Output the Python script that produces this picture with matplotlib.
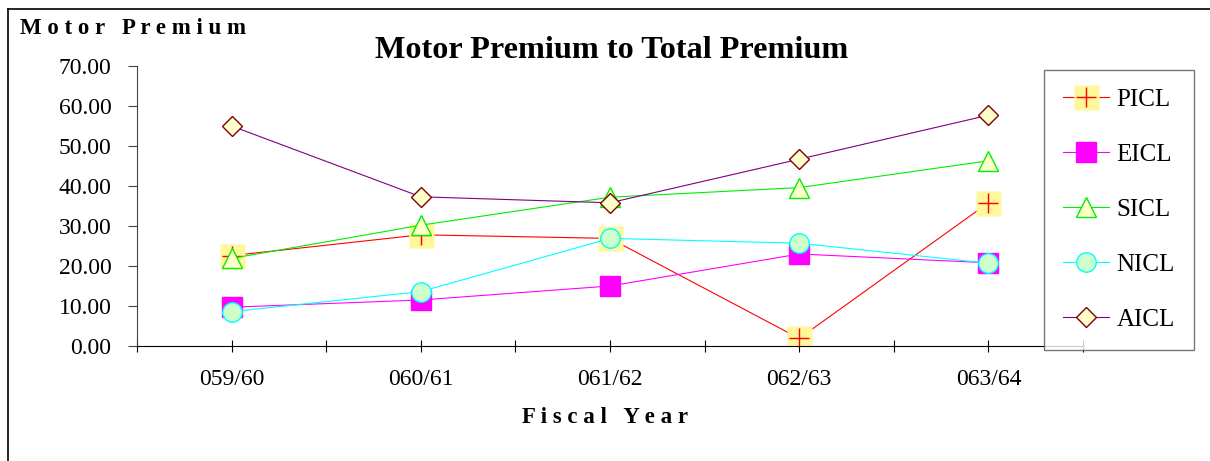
import matplotlib
matplotlib.use("Agg")
import matplotlib.pyplot as plt
from matplotlib.lines import Line2D
from matplotlib.legend_handler import HandlerTuple
import numpy as np

plt.rcParams['font.family'] = ['Liberation Serif', 'DejaVu Serif']

# data
years = ['059/60', '060/61', '061/62', '062/63', '063/64']
picl = [22.6, 27.8, 26.9, 1.9, 35.8]
eicl = [9.7, 11.5, 15.0, 23.0, 20.8]
sicl = [21.9, 30.2, 37.2, 39.6, 46.3]
nicl = [8.6, 13.6, 26.9, 25.7, 20.7]
aicl = [55.0, 37.3, 35.8, 46.7, 57.7]
yticks = [0, 10, 20, 30, 40, 50, 60, 70]

W, H = 1210, 461
fig = plt.figure(figsize=(W / 100, H / 100), dpi=100)
ax = fig.add_axes([137 / W, 1 - 346 / H, (1083 - 137) / W, (346 - 66) / H])

x = np.arange(len(years))

# PICL: pale yellow square behind a red plus
p_sq, = ax.plot(x, picl, color='#FF0000', lw=0.8, marker='s', ms=18,
                mfc='#FFF799', mec='none')
p_pl, = ax.plot(x, picl, ls='none', marker='+', ms=14, mew=1.0, color='#FF0000')
e_ln, = ax.plot(x, eicl, color='#FF00FF', lw=0.8, marker='s', ms=14,
                mfc='#FF00FF', mec='#FF00FF')
s_ln, = ax.plot(x, sicl, color='#00EE00', lw=0.8, marker='^', ms=14,
                mfc='#FFFFCC', mec='#00EE00', mew=1.0)
n_ln, = ax.plot(x, nicl, color='#00FFFF', lw=0.8, marker='o', ms=14,
                mfc='#CCFFCC', mec='#00FFFF', mew=1.0)
a_ln, = ax.plot(x, aicl, color='#800080', lw=0.8, marker='D', ms=10,
                mfc='#FFFFCC', mec='#800000', mew=1.0)

ax.set_xlim(-0.5, 4.5)
ax.set_ylim(0, 70)
ax.set_yticks(yticks)
ax.set_yticklabels([f'{v:.2f}' for v in yticks])
ax.set_xticks(x)
ax.set_xticklabels(years)
ax.set_xticks(np.arange(-0.5, 4.6, 1.0), minor=True)

for s in ['top', 'right']:
    ax.spines[s].set_visible(False)
ax.spines['left'].set_color('#444444')
ax.spines['bottom'].set_color('black')
ax.tick_params(axis='y', direction='out', length=6.5, width=0.8, pad=12,
               labelsize=17, color='#444444')
ax.tick_params(axis='x', which='both', direction='inout', length=8.6, width=0.8,
               labelsize=17)
ax.tick_params(axis='x', which='major', pad=12)

fig.text(20 / W, 1 - 28 / H, 'M o t o r   P r e m i u m', fontsize=16.5,
         fontweight='bold', va='center', ha='left')
fig.text(612 / W, 1 - 51 / H, 'Motor Premium to Total Premium', fontsize=23.2,
         fontweight='bold', va='center', ha='center')
fig.text(605 / W, 1 - 417 / H, 'F i s c a l   Y e a r', fontsize=16.5,
         fontweight='bold', va='center', ha='center')

leg = ax.legend([(p_sq, p_pl), e_ln, s_ln, n_ln, a_ln],
                ['PICL', 'EICL', 'SICL', 'NICL', 'AICL'],
                handler_map={tuple: HandlerTuple(ndivide=1)},
                loc='upper left', bbox_to_anchor=(1044 / W, 1 - 70 / H),
                bbox_transform=fig.transFigure, borderaxespad=0,
                fontsize=18, frameon=True, fancybox=False, labelspacing=1.3,
                handlelength=1.85, handletextpad=0.3, borderpad=0.75)
leg.get_frame().set_edgecolor('#555555')
leg.get_frame().set_linewidth(1.0)

# outer chart frame (top and left edges visible)
fig.add_artist(Line2D([8 / W, 1.0], [1 - 9.5 / H, 1 - 9.5 / H],
                      transform=fig.transFigure, color='black', lw=1.2))
fig.add_artist(Line2D([8 / W, 8 / W], [0.0, 1 - 9.5 / H],
                      transform=fig.transFigure, color='black', lw=1.2))

fig.savefig('out.png', dpi=100)
